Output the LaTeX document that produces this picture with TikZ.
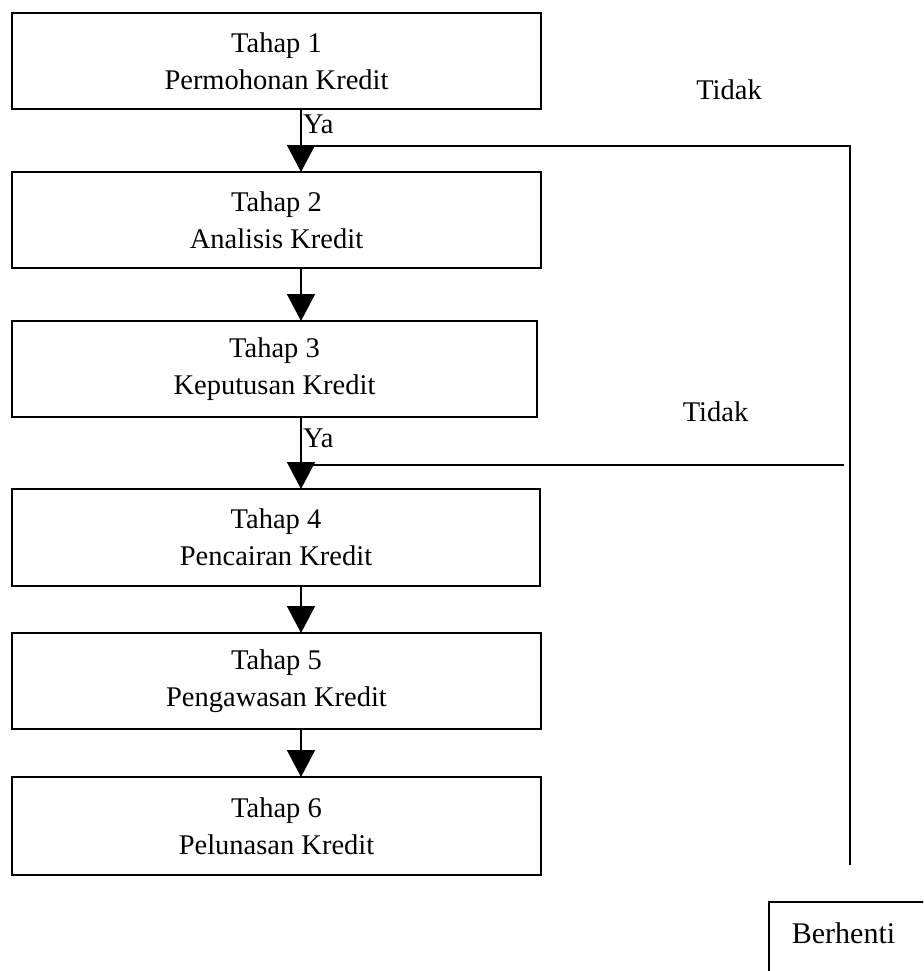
\documentclass[tikz,border=0pt]{standalone}
\usepackage{fontspec}
\setmainfont{Liberation Serif}
\usetikzlibrary{arrows.meta}

\tikzset{
  stage/.style={draw, line width=2.6pt, rectangle, inner sep=0pt, outer sep=0pt,
    minimum width=529pt, minimum height=96pt, align=center,
    font=\fontsize{28.5}{37}\selectfont},
  flow/.style={line width=1.8pt, -{Triangle[width=28pt,length=27pt]}},
  link/.style={line width=1.8pt},
  lbl/.style={inner sep=0pt, font=\fontsize{28.5}{34}\selectfont},
}

\begin{document}
\begin{tikzpicture}[x=1pt,y=-1pt]
\useasboundingbox (0,0) rectangle (923,971);
\clip (0,0) rectangle (923,971);

% the six stages
\node[stage] (b1) at (276.5,61)  {Tahap 1\\Permohonan Kredit};
\node[stage] (b2) at (276.5,220) {Tahap 2\\Analisis Kredit};
\node[stage, minimum width=525pt] (b3) at (274.5,369) {Tahap 3\\Keputusan Kredit};
\node[stage, minimum width=528pt, minimum height=97pt] (b4) at (276,537.5) {Tahap 4\\Pencairan Kredit};
\node[stage] (b5) at (276.5,681) {Tahap 5\\Pengawasan Kredit};
\node[stage, minimum height=98pt] (b6) at (276.5,826) {Tahap 6\\Pelunasan Kredit};

% vertical line carrying the main flow
\coordinate (spine) at (301,0);

\draw[flow] (b1.south -| spine) -- (b2.north -| spine);
\draw[flow] (b2.south -| spine) -- (b3.north -| spine);
\draw[flow] (b3.south -| spine) -- (b4.north -| spine);
\draw[flow] (b4.south -| spine) -- (b5.north -| spine);
\draw[flow] (b5.south -| spine) -- (b6.north -| spine);

% decision labels
\node[lbl, anchor=west] (ya1) at (303,124) {Ya};
\node[lbl, anchor=west] (ya2) at (303,438) {Ya};
\node[lbl] (tidak1) at (729,90)  {Tidak};
\node[lbl] (tidak2) at (715.5,412) {Tidak};

% return lines on the right
\coordinate (r1) at (850,146);
\coordinate (rend) at (850,865);
\coordinate (r2) at (844,465);
\draw[link] (rend) -- (r1) -- (r1 -| spine);
\draw[link] (r2) -- (r2 -| spine);

% stop box
\draw[line width=2.6pt] (769,990) -- (769,902) -- (940,902);
\node[inner sep=0pt, font=\fontsize{30}{36}\selectfont] (stop) at (843.5,933) {Berhenti};
\end{tikzpicture}
\end{document}
